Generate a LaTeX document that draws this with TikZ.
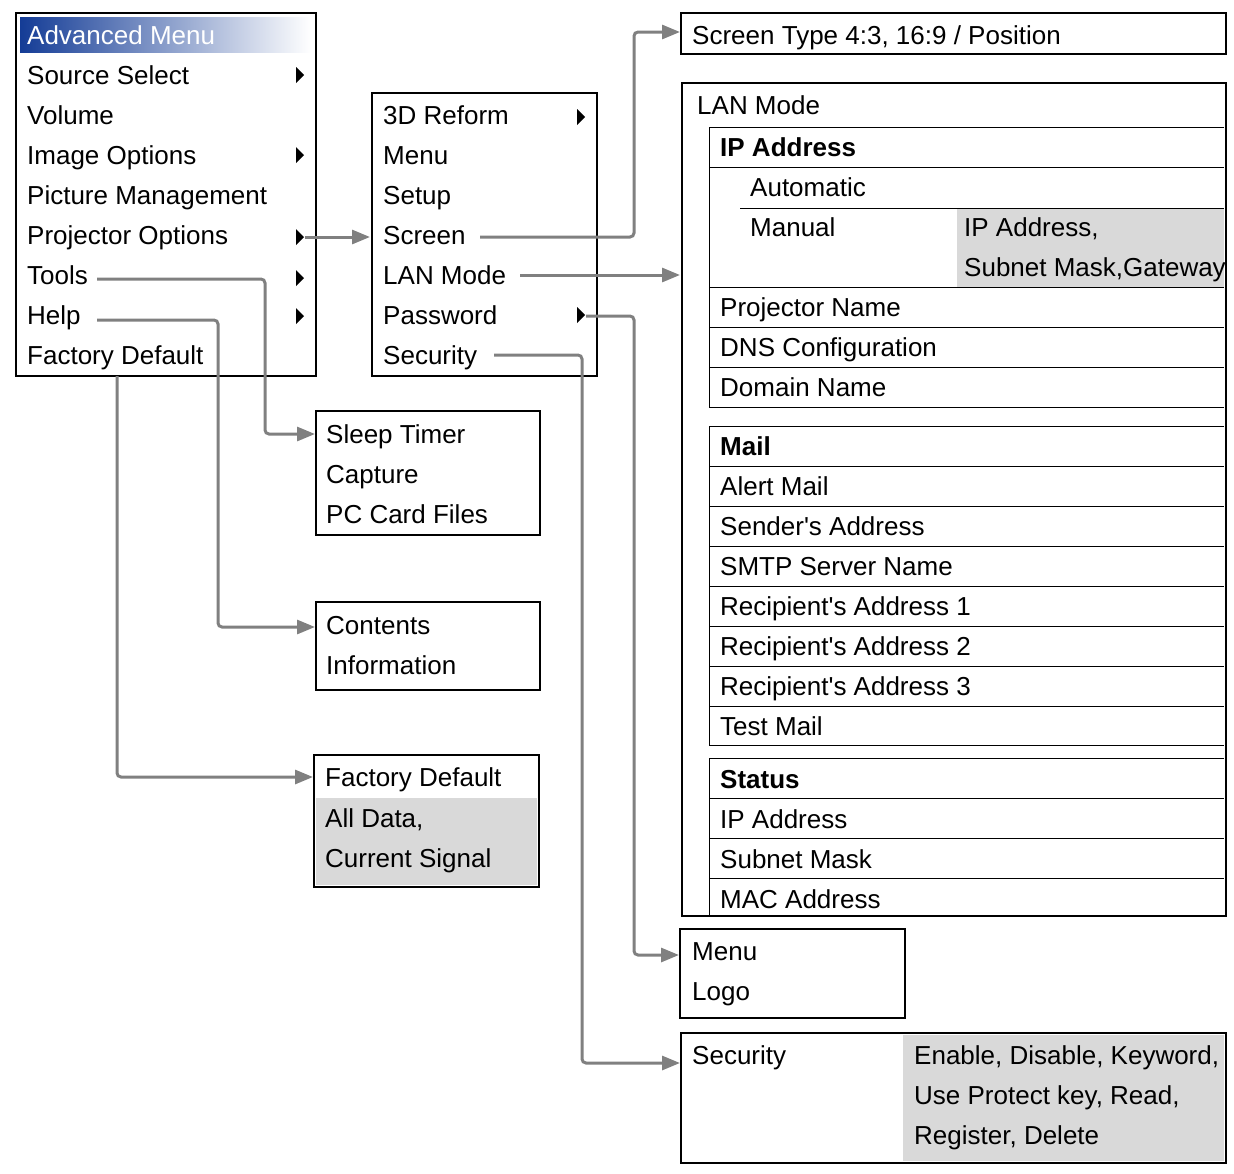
\documentclass[tikz,border=0pt]{standalone}
\usepackage{fontspec}
\setmainfont{Liberation Sans}
\usetikzlibrary{arrows.meta}
\begin{document}
\fontsize{26}{28}\selectfont
\begin{tikzpicture}[x=1pt,y=-1pt,
  box/.style={draw=black,line width=2.5pt},
  thin/.style={draw=black,line width=1pt},
  txt/.style={anchor=base west,inner sep=0pt,yshift=-9pt,font=\fontsize{26}{28}\selectfont},
  bold/.style={txt,font=\fontsize{26}{28}\selectfont\bfseries},
  conn/.style={draw={rgb,255:red,128;green,128;blue,128},line width=3pt,rounded corners=4pt,
    -{Triangle[length=18pt,width=14pt]}}]
\useasboundingbox (0,0) rectangle (1234,1173);
\definecolor{lg}{RGB}{217,217,217}
% main menu
\shade[left color={rgb,255:red,20;green,60;blue,150},right color=white] (20,17) rectangle (311,52);
\draw[box] (16,13) rectangle (316,376);
\node[txt,text=white] (am) at (27,35) {Advanced Menu};
\foreach \n/\t/\y in {ss/Source Select/75,vol/Volume/115,io/Image Options/155,pm/Picture Management/195,po/Projector Options/235,tools/Tools/275,help/Help/315,fd/Factory Default/355}
  \node[txt] (\n) at (27,\y) {\t};
\foreach \y in {75,155,237,278,316}
  \fill (296,\y-8) -- (304,\y) -- (296,\y+8) -- cycle;
% sub menu
\draw[box] (372,93) rectangle (597,376);
\foreach \n/\t/\y in {r3d/3D Reform/115,menu/Menu/155,setup/Setup/195,screen/Screen/235,lan/LAN Mode/275,pw/Password/315,sec/Security/355}
  \node[txt] (\n) at (383,\y) {\t};
\foreach \y in {117,315}
  \fill (577,\y-8) -- (585,\y) -- (577,\y+8) -- cycle;
% screen box
\draw[box] (681,13) rectangle (1226,54);
\node[txt] (st) at (692,35) {Screen Type 4:3, 16:9 / Position};
% LAN box
\fill[lg] (957,208) rectangle (1224,287);
\foreach \a/\b in {127/407,426/745,758/915}{
  \draw[thin] (1224,\a) -- (709,\a) -- (709,\b) -- (1224,\b);}
\foreach \y in {167,287,327,367,466,506,546,586,626,666,706,798,838,878}
  \draw[thin] (709,\y) -- (1224,\y);
\draw[thin] (740,208) -- (1224,208);
\draw[box] (682,83) rectangle (1226,916);
\node[txt] (lanm) at (697,105) {LAN Mode};
\node[bold] (ipa) at (720,147) {IP Address};
\node[txt] (auto) at (750,187) {Automatic};
\node[txt] (man) at (750,227) {Manual};
\node[txt] (ipa2) at (964,227) {IP Address,};
\node[txt] (sub) at (964,267) {Subnet Mask,Gateway};
\foreach \n/\t/\y in {pn/Projector Name/307,dns/DNS Configuration/347,dom/Domain Name/387,
  am1/Alert Mail/486,sa/Sender\textquotesingle s Address/526,smtp/SMTP Server Name/566,r1/Recipient\textquotesingle s Address 1/606,
  r2/Recipient\textquotesingle s Address 2/646,r3/Recipient\textquotesingle s Address 3/686,tm/Test Mail/726,
  sip/IP Address/819,ssm/Subnet Mask/859,mac/MAC Address/899}
  \node[txt] (\n) at (720,\y) {\t};
\node[bold] (mail) at (720,446) {Mail};
\node[bold] (status) at (720,779) {Status};
% Menu / Logo
\draw[box] (680,929) rectangle (905,1018);
\node[txt] (pm1) at (692,951) {Menu};
\node[txt] (pl) at (692,991) {Logo};
% Security box
\fill[lg] (903,1035) rectangle (1224,1161);
\draw[box] (681,1033) rectangle (1226,1163);
\node[txt] (secb) at (692,1055) {Security};
\node[txt] (s1) at (914,1055) {Enable, Disable, Keyword,};
\node[txt] (s2) at (914,1095) {Use Protect key, Read,};
\node[txt] (s3) at (914,1135) {Register, Delete};
% Tools box
\draw[box] (316,411) rectangle (540,535);
\node[txt] (sl) at (326,434) {Sleep Timer};
\node[txt] (cap) at (326,474) {Capture};
\node[txt] (pc) at (326,514) {PC Card Files};
% Help box
\draw[box] (316,602) rectangle (540,690);
\node[txt] (con) at (326,625) {Contents};
\node[txt] (inf) at (326,665) {Information};
% Factory box
\fill[lg] (316,798) rectangle (537,885);
\draw[box] (314,755) rectangle (539,887);
\node[txt] (fd2) at (325,777) {Factory Default};
\node[txt] (ad) at (325,818) {All Data,};
\node[txt] (cs) at (325,858) {Current Signal};
% named box entry points
\coordinate (inSub) at (370,237);
\coordinate (inScr) at (680,32);
\coordinate (inLan) at (680,275);
\coordinate (inML) at (679,955);
\coordinate (inSec) at (680,1063);
\coordinate (inTools) at (315,434);
\coordinate (inHelp) at (315,627);
\coordinate (inFd) at (313,777);
% connectors
\draw[conn] (305,237) -- (inSub);
\draw[conn] (480,237) -- (634,237) -- (634,32) -- (inScr);
\draw[conn] (520,275) -- (inLan);
\draw[conn] (586,316) -- (634,316) -- (634,955) -- (inML);
\draw[conn] (494,355) -- (582,355) -- (582,1063) -- (inSec);
\draw[conn] (97,279) -- (265,279) -- (265,434) -- (inTools);
\draw[conn] (97,320) -- (218,320) -- (218,627) -- (inHelp);
\draw[conn] (117,376) -- (117,777) -- (inFd);
\end{tikzpicture}
\end{document}
